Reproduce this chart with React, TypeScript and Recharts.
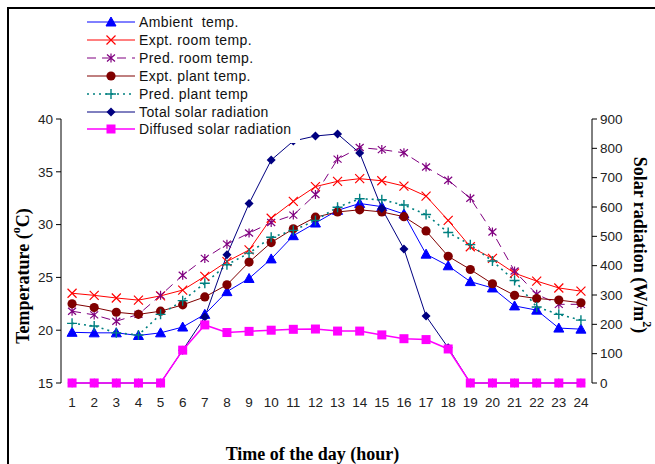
import React from "react";
import { ComposedChart, Line, XAxis, YAxis } from "recharts";

const hours = [1, 2, 3, 4, 5, 6, 7, 8, 9, 10, 11, 12, 13, 14, 15, 16, 17, 18, 19, 20, 21, 22, 23, 24];

const ambientTemp = [19.8, 19.75, 19.75, 19.5, 19.75, 20.3, 21.5, 23.65, 24.9, 26.75, 28.95, 30.15, 31.35, 32.0, 31.7, 31.0, 27.2, 26.1, 24.6, 24.0, 22.3, 21.9, 20.2, 20.1];
const exptRoomTemp = [23.5, 23.3, 23.05, 22.85, 23.25, 23.8, 25.1, 26.5, 27.6, 30.6, 32.2, 33.6, 34.1, 34.35, 34.15, 33.65, 32.7, 30.4, 27.9, 26.8, 25.4, 24.65, 24.0, 23.7];
const predRoomTemp = [21.8, 21.45, 20.85, 21.5, 23.3, 25.2, 26.8, 28.15, 29.2, 30.2, 30.9, 32.85, 36.2, 37.3, 37.1, 36.8, 35.45, 34.2, 32.5, 29.3, 25.6, 23.4, 22.45, 22.45];
const exptPlantTemp = [22.5, 22.15, 21.7, 21.5, 21.8, 22.4, 23.15, 24.3, 26.45, 28.3, 29.6, 30.7, 31.2, 31.4, 31.2, 30.75, 29.4, 27.0, 25.75, 24.4, 23.3, 23.0, 22.85, 22.6];
const predPlantTemp = [20.65, 20.4, 19.75, 19.55, 21.5, 22.8, 24.45, 26.2, 27.3, 28.8, 29.45, 30.4, 31.65, 32.45, 32.35, 31.85, 30.95, 29.25, 28.1, 26.55, 24.7, 22.2, 21.5, 20.95];
const totalSolar = [0, 0, 0, 0, 0, 112, 225, 437, 612, 760, 825, 842, 849, 784, 595, 457, 228, 120, 0, 0, 0, 0, 0, 0];
const diffusedSolar = [0, 0, 0, 0, 0, 112, 198, 172, 176, 180, 183, 184, 177, 177, 164, 151, 148, 116, 0, 0, 0, 0, 0, 0];

const tempTicks = [15, 20, 25, 30, 35, 40];
const solarTicks = [0, 100, 200, 300, 400, 500, 600, 700, 800, 900];

type Shape = "triangle" | "cross" | "star" | "circle" | "plus" | "diamond" | "square";

const series: {
  key: string;
  name: string;
  values: number[];
  color: string;
  shape: Shape;
  axis: "left" | "right";
  dash?: string;
  width: number;
}[] = [
  { key: "ambient", name: "Ambient  temp.", values: ambientTemp, color: "#0000ff", shape: "triangle", axis: "left", width: 1 },
  { key: "exptRoom", name: "Expt. room temp.", values: exptRoomTemp, color: "#ff0000", shape: "cross", axis: "left", width: 1 },
  { key: "predRoom", name: "Pred. room temp.", values: predRoomTemp, color: "#800080", shape: "star", axis: "left", dash: "9 6", width: 1 },
  { key: "exptPlant", name: "Expt. plant temp.", values: exptPlantTemp, color: "#800000", shape: "circle", axis: "left", width: 1 },
  { key: "predPlant", name: "Pred. plant temp", values: predPlantTemp, color: "#008080", shape: "plus", axis: "left", dash: "2 4", width: 1.6 },
  { key: "total", name: "Total solar radiation", values: totalSolar, color: "#000080", shape: "diamond", axis: "right", width: 1 },
  { key: "diffused", name: "Diffused solar radiation", values: diffusedSolar, color: "#ff00ff", shape: "square", axis: "right", width: 1.5 },
];

const data = hours.map((hour, i) => {
  const row: Record<string, number> = { hour };
  series.forEach((s) => {
    row[s.key] = s.values[i];
  });
  return row;
});

const boundaryTicks = [...hours.map((h) => h - 0.5), hours[hours.length - 1] + 0.5];

const Marker = ({ shape, color, cx, cy }: { shape: Shape; color: string; cx: number; cy: number }) => {
  switch (shape) {
    case "triangle":
      return <polygon points={`${cx},${cy - 5} ${cx + 5},${cy + 4} ${cx - 5},${cy + 4}`} fill={color} stroke={color} />;
    case "cross":
      return (
        <path
          d={`M${cx - 4.5},${cy - 4.5}L${cx + 4.5},${cy + 4.5}M${cx - 4.5},${cy + 4.5}L${cx + 4.5},${cy - 4.5}`}
          stroke={color}
          strokeWidth={1.2}
          fill="none"
        />
      );
    case "star":
      return (
        <path
          d={`M${cx - 4},${cy - 3.5}L${cx + 4},${cy + 3.5}M${cx - 4},${cy + 3.5}L${cx + 4},${cy - 3.5}M${cx},${cy - 4.5}L${cx},${cy + 4.5}`}
          stroke={color}
          strokeWidth={1.2}
          fill="none"
        />
      );
    case "circle":
      return <circle cx={cx} cy={cy} r={4.6} fill={color} />;
    case "plus":
      return (
        <path
          d={`M${cx - 5},${cy}L${cx + 5},${cy}M${cx},${cy - 5}L${cx},${cy + 5}`}
          stroke={color}
          strokeWidth={1.4}
          fill="none"
        />
      );
    case "diamond":
      return <polygon points={`${cx},${cy - 4.5} ${cx + 4.5},${cy} ${cx},${cy + 4.5} ${cx - 4.5},${cy}`} fill={color} />;
    case "square":
      return <rect x={cx - 4.5} y={cy - 4.5} width={9} height={9} fill={color} />;
  }
  return null;
};

const makeDot = (shape: Shape, color: string) => (props: any) => {
  const { cx, cy, index } = props;
  if (cx == null || cy == null) return <g key={`d-${index}`} />;
  return (
    <g key={`d-${index}`}>
      <Marker shape={shape} color={color} cx={cx} cy={cy} />
    </g>
  );
};

const titleFont = '"Liberation Serif", "Times New Roman", serif';
const tickFont = '"Liberation Sans", Arial, sans-serif';

const LeftTitle = (props: any) => {
  const vb = props.viewBox;
  const x = vb.x + 23;
  const y = vb.y + vb.height / 2 + 25;
  return (
    <text
      x={x}
      y={y}
      transform={`rotate(-90 ${x} ${y})`}
      textAnchor="middle"
      dominantBaseline="central"
      fontFamily={titleFont}
      fontWeight="bold"
      fontSize={18}
      fill="#000"
    >
      Temperature  (<tspan fontSize={12} dy={-7}>o</tspan>
      <tspan dy={7}>C)</tspan>
    </text>
  );
};

const RightTitle = (props: any) => {
  const vb = props.viewBox;
  const x = vb.x + 48;
  const y = vb.y + vb.height / 2 - 6;
  return (
    <text
      x={x}
      y={y}
      transform={`rotate(90 ${x} ${y})`}
      textAnchor="middle"
      dominantBaseline="central"
      fontFamily={titleFont}
      fontWeight="bold"
      fontSize={18}
      fill="#000"
    >
      Solar radiation  (W/m<tspan fontSize={12} dy={-7}>2</tspan>
      <tspan dy={7}>)</tspan>
    </text>
  );
};

const BottomTitle = (props: any) => {
  const vb = props.viewBox;
  return (
    <text
      x={vb.x + vb.width / 2 - 14}
      y={vb.y + 77}
      textAnchor="middle"
      fontFamily={titleFont}
      fontWeight="bold"
      fontSize={18}
      fill="#000"
    >
      Time of the day (hour)
    </text>
  );
};

const ChartLegend = () => (
  <div
    style={{
      position: "absolute",
      left: 83,
      top: 12,
      width: 217,
      height: 131,
      background: "#fff",
      fontFamily: tickFont,
      fontSize: 14,
      letterSpacing: 0.4,
      color: "#111",
    }}
  >
    {series.map((s, i) => (
      <div
        key={s.key}
        style={{ position: "absolute", left: 4, top: 1 + i * 17.9, height: 18, display: "flex", alignItems: "center", whiteSpace: "pre" }}
      >
        <svg width={48} height={12} style={{ display: "block" }}>
          <line x1={0} y1={6} x2={48} y2={6} stroke={s.color} strokeWidth={s.width} strokeDasharray={s.dash} />
          <Marker shape={s.shape} color={s.color} cx={24} cy={6} />
        </svg>
        <span style={{ marginLeft: 4 }}>{s.name}</span>
      </div>
    ))}
  </div>
);

export default function App() {
  return (
    <div style={{ position: "absolute", left: 0, top: 0, width: 655, height: 464, overflow: "hidden", background: "#fff" }}>
      <div
        style={{
          position: "absolute",
          left: 7,
          top: 7,
          width: 700,
          height: 500,
          borderTop: "2px solid #000",
          borderLeft: "2px solid #000",
        }}
      />
      <div style={{ position: "absolute", left: 0, top: 0 }}>
        <ComposedChart width={655} height={464} data={data} margin={{ top: 119, right: 0, bottom: 51, left: 0 }}>
          <XAxis
            xAxisId="bounds"
            type="number"
            domain={[0.5, 24.5]}
            ticks={boundaryTicks}
            tick={false}
            tickSize={5}
            height={0}
            stroke="#000"
            allowDataOverflow
          />
          <XAxis
            xAxisId="main"
            dataKey="hour"
            type="number"
            domain={[0.5, 24.5]}
            ticks={hours}
            interval={0}
            axisLine={false}
            tickLine={false}
            tickSize={0}
            tickMargin={14}
            height={30}
            tick={{ fill: "#222", fontSize: 13.5, fontFamily: tickFont }}
            label={<BottomTitle />}
            allowDataOverflow
          />
          <YAxis
            yAxisId="left"
            orientation="left"
            domain={[15, 40]}
            ticks={tempTicks}
            interval={0}
            width={61}
            tickSize={5}
            tickMargin={3}
            stroke="#000"
            tick={{ fill: "#222", fontSize: 13.5, fontFamily: tickFont }}
            label={<LeftTitle />}
          />
          <YAxis
            yAxisId="right"
            orientation="right"
            domain={[0, 900]}
            ticks={solarTicks}
            interval={0}
            width={63}
            tickSize={5}
            tickMargin={3}
            stroke="#000"
            tick={{ fill: "#222", fontSize: 13.5, fontFamily: tickFont }}
            label={<RightTitle />}
          />
          {series.map((s) => (
            <Line
              key={s.key}
              xAxisId="main"
              yAxisId={s.axis}
              type="linear"
              dataKey={s.key}
              name={s.name}
              stroke={s.color}
              strokeWidth={s.width}
              strokeDasharray={s.dash}
              dot={makeDot(s.shape, s.color)}
              activeDot={false}
              isAnimationActive={false}
            />
          ))}
        </ComposedChart>
        <ChartLegend />
      </div>
    </div>
  );
}
